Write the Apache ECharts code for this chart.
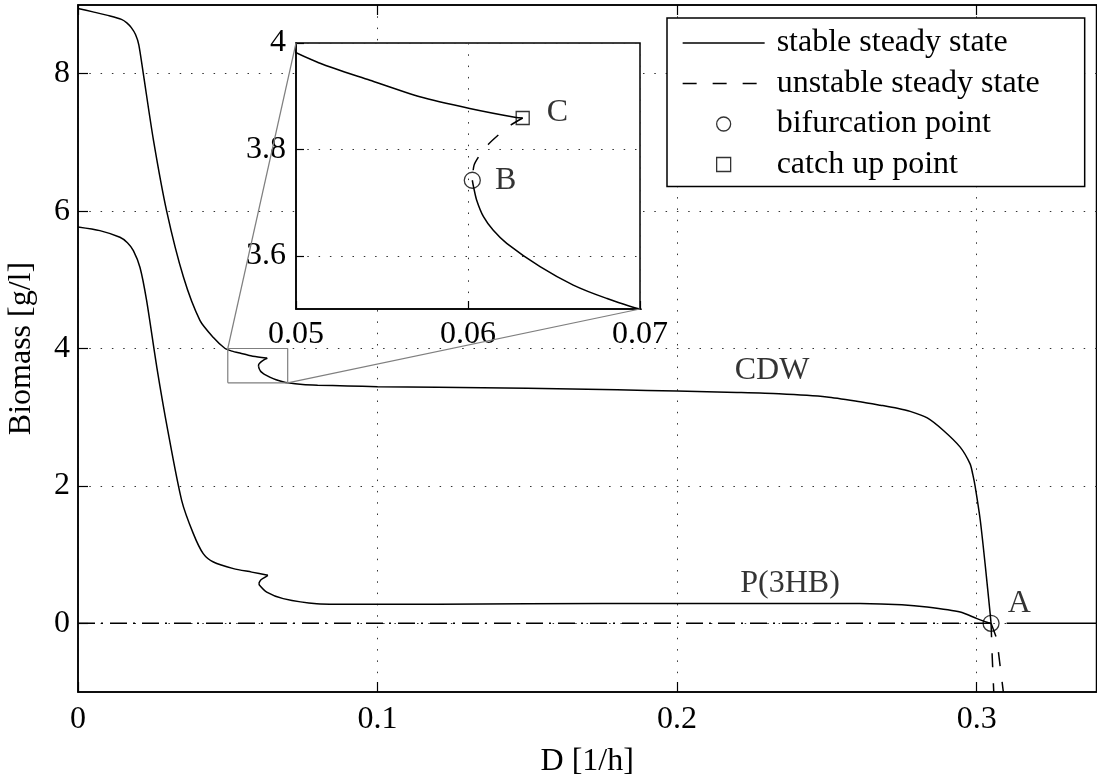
<!DOCTYPE html>
<html><head><meta charset="utf-8">
<script src="https://cdn.jsdelivr.net/npm/echarts@6/dist/echarts.min.js"></script>
<style>html,body{margin:0;padding:0;background:#fff}#c{width:1097px;height:776px}</style>
</head><body><div id="c"></div>
<script>
// ---------- axis ranges & ticks ----------
const xRange = [0, 0.34];
const yRange = [-1, 9];
const xTicks = [0, 0.1, 0.2, 0.3];
const yTicks = [0, 2, 4, 6, 8];
const insetXRange = [0.05, 0.07];
const insetYRange = [3.5, 4];
const insetXTicks = [0.05, 0.06, 0.07];
const insetYTicks = [3.6, 3.8, 4];

// ---------- CDW branches ----------
const cdwUpperX = [0, 0.005, 0.0107, 0.0145, 0.0163, 0.0178, 0.0192, 0.0203, 0.0218, 0.0252, 0.0296, 0.0352, 0.0407, 0.0452, 0.0491, 0.0514, 0.0543, 0.0572, 0.0601, 0.0628, 0.06318];
const cdwUpperY = [8.95, 8.90, 8.84, 8.79, 8.74, 8.67, 8.57, 8.42, 8.0, 7.03, 6.0, 5.04, 4.41, 4.16, 4.0, 3.962, 3.930, 3.899, 3.877, 3.860, 3.859];
const cdwUnstX = [0.06318, 0.0625, 0.0618, 0.0612, 0.0607, 0.06035, 0.06025];
const cdwUnstY = [3.859, 3.846, 3.828, 3.810, 3.790, 3.770, 3.742];
const cdwLowerX = [0.06025, 0.06032, 0.0605, 0.0609, 0.06147, 0.06225, 0.06419, 0.06612, 0.06806, 0.07, 0.075, 0.08, 0.09, 0.1, 0.12, 0.15, 0.18, 0.2, 0.22, 0.234, 0.25, 0.2611, 0.2678, 0.2735, 0.2778, 0.2835, 0.2889, 0.2945, 0.2978, 0.2987, 0.2995, 0.3012, 0.3028, 0.3045, 0.3048];
const cdwLowerY = [3.742, 3.730, 3.705, 3.6735, 3.648, 3.6235, 3.5795, 3.545, 3.520, 3.50, 3.475, 3.465, 3.455, 3.445, 3.435, 3.42, 3.40, 3.38, 3.36, 3.341, 3.295, 3.225, 3.175, 3.13, 3.085, 2.99, 2.807, 2.564, 2.32, 2.167, 1.99, 1.50, 0.87, 0.14, 0.0];
const cdwNegX = [0.3048, 0.3052, 0.3057];
const cdwNegY = [0, -0.5, -1.0];

// ---------- P(3HB) branches ----------
const pUpperX = [0, 0.0073, 0.0140, 0.0165, 0.01848, 0.0207, 0.0229, 0.0263, 0.030, 0.0346, 0.0385, 0.0418, 0.0452, 0.0519, 0.058, 0.0634];
const pUpperY = [5.77, 5.716, 5.619, 5.54, 5.425, 5.18, 4.70, 3.73, 2.80, 1.79, 1.305, 1.014, 0.892, 0.796, 0.745, 0.698];
const pUnstX = [0.0634, 0.0622, 0.0610, 0.0604];
const pUnstY = [0.698, 0.665, 0.630, 0.585];
const pLowerX = [0.0604, 0.0606, 0.063, 0.0685, 0.0797, 0.0964, 0.12, 0.15, 0.2, 0.234, 0.2611, 0.275, 0.2834, 0.2945, 0.3001, 0.3034, 0.3048];
const pLowerY = [0.585, 0.553, 0.455, 0.359, 0.286, 0.276, 0.278, 0.283, 0.29, 0.29, 0.288, 0.27, 0.237, 0.164, 0.068, 0.015, 0.0];
const pNegX = [0.3048, 0.3067, 0.3089];
const pNegY = [0, -0.22, -1.0];

// ---------- washout (zero) branch ----------
const zeroUnstX = [0, 0.3048];
const zeroStableX = [0.31, 0.34];

// ---------- special points & annotations ----------
const pointA = [0.3048, 0];
const pointB = [0.06025, 3.742];
const pointC = [0.06318, 3.859];
const curveLabels = ['CDW', 'P(3HB)'];
const curveLabelX = [0.2317, 0.2377];
const curveLabelY = [3.68, 0.582];

const FONT = 'Liberation Serif';
const FS = 32;
const zip = (xs, ys) => xs.map((x, i) => [x, ys[i]]);
const txt = {fontFamily: FONT, fontSize: FS, color: '#000'};

const chart = echarts.init(document.getElementById('c'), null, {renderer: 'canvas'});

const solid = {color: '#000', width: 1.5, type: 'solid'};
const dashed = {color: '#000', width: 1.5, type: [14, 16]};
const dashDot = {color: '#000', width: 1.5, type: [17, 6, 2, 7]};

function lineSeries(name, data, style, inset, smooth) {
  return {
    name: name, type: 'line', data: data, symbol: 'none',
    smooth: smooth ? 0.25 : false,
    xAxisIndex: inset ? 2 : 0, yAxisIndex: inset ? 1 : 0,
    lineStyle: style, itemStyle: {color: '#000'}, z: inset ? 5 : 2, clip: true, silent: true
  };
}
function markerSeries(name, pt, symbol, size, label, lab, inset) {
  return {
    name: name, type: 'scatter', data: [pt], symbol: symbol, symbolSize: size,
    xAxisIndex: inset ? 2 : 0, yAxisIndex: inset ? 1 : 0, z: inset ? 6 : 3,
    itemStyle: {color: 'rgba(0,0,0,0)', borderColor: '#000', borderWidth: 1.3},
    label: Object.assign({show: true, formatter: label, fontFamily: FONT, fontSize: FS, color: '#000', position: 'right'}, lab),
    silent: true
  };
}

const boxPts = [[insetXRange[0], insetYRange[0]], [insetXRange[1], insetYRange[0]], [insetXRange[1], insetYRange[1]], [insetXRange[0], insetYRange[1]], [insetXRange[0], insetYRange[0]]];

const gridDots = {show: true, lineStyle: {color: '#333', width: 1, type: [1.5, 9.8]}};
const hiddenMark = {color: 'rgba(0,0,0,0)', borderWidth: 0, opacity: 0};

const option = {
  animation: false,
  backgroundColor: '#fff',
  grid: [
    {left: 78, top: 5, width: 1018.5, height: 687, show: true, backgroundColor: 'transparent', borderColor: '#000', borderWidth: 1.5, containLabel: false, outerBoundsMode: 'none', z: 0},
    {left: 296, top: 43, width: 344, height: 266, show: true, backgroundColor: '#fff', borderColor: '#000', borderWidth: 1.5, containLabel: false, outerBoundsMode: 'none', z: 3}
  ],
  xAxis: [
    {gridIndex: 0, type: 'value', min: xRange[0], max: xRange[1], position: 'bottom',
     axisLine: {show: true, onZero: false, lineStyle: {color: '#000', width: 1.5}},
     axisTick: {show: true, inside: true, length: 10, customValues: xTicks, lineStyle: {color: '#000', width: 1.2}},
     axisLabel: Object.assign({show: true, customValues: xTicks, margin: 12, formatter: v => String(v)}, txt),
     splitLine: gridDots,
     name: 'D [1/h]', nameLocation: 'middle', nameGap: 54, nameTextStyle: txt},
    {gridIndex: 0, type: 'value', min: xRange[0], max: xRange[1], position: 'top',
     axisLine: {show: true, onZero: false, lineStyle: {color: '#000', width: 1.5}},
     axisTick: {show: true, inside: true, length: 10, customValues: xTicks, lineStyle: {color: '#000', width: 1.2}},
     axisLabel: {show: false}, splitLine: {show: false}},
    {gridIndex: 1, type: 'value', min: insetXRange[0], max: insetXRange[1], position: 'bottom', z: 4,
     axisLine: {show: true, onZero: false, lineStyle: {color: '#000', width: 1.5}},
     axisTick: {show: true, inside: true, length: 8, customValues: insetXTicks, lineStyle: {color: '#000', width: 1.2}},
     axisLabel: Object.assign({show: true, customValues: insetXTicks, margin: 10, formatter: v => String(+v.toFixed(4))}, txt),
     splitLine: gridDots}
  ],
  yAxis: [
    {gridIndex: 0, type: 'value', min: yRange[0], max: yRange[1], position: 'left',
     axisLine: {show: true, onZero: false, lineStyle: {color: '#000', width: 1.5}},
     axisTick: {show: true, inside: true, length: 10, customValues: yTicks, lineStyle: {color: '#000', width: 1.2}},
     axisLabel: Object.assign({show: true, customValues: yTicks, margin: 8, formatter: v => String(v)}, txt),
     splitLine: gridDots,
     name: 'Biomass [g/l]', nameLocation: 'middle', nameGap: 40, nameRotate: 90, nameTextStyle: txt},
    {gridIndex: 1, type: 'value', min: insetYRange[0], max: insetYRange[1], position: 'left', z: 4,
     axisLine: {show: true, onZero: false, lineStyle: {color: '#000', width: 1.5}},
     axisTick: {show: true, inside: true, length: 8, customValues: insetYTicks, lineStyle: {color: '#000', width: 1.2}},
     axisLabel: Object.assign({show: true, customValues: insetYTicks, margin: 10, formatter: v => String(+v.toFixed(4))}, txt),
     splitLine: gridDots}
  ],
  legend: {
    orient: 'vertical', left: 667, top: 18, padding: [9, 45, 6, 15],
    itemWidth: 82, itemHeight: 14, itemGap: 8.5,
    backgroundColor: '#fff', borderColor: '#000', borderWidth: 1.5, borderRadius: 0,
    textStyle: {fontFamily: FONT, fontSize: FS, color: '#000', lineHeight: 30, padding: [0, 0, 0, 7]},
    selectedMode: false, z: 8,
    data: [
      {name: 'stable steady state', lineStyle: {width: 1.3, color: '#000'}, itemStyle: hiddenMark},
      {name: 'unstable steady state', lineStyle: {width: 1.3, color: '#000'}, itemStyle: hiddenMark},
      {name: 'bifurcation point', icon: 'circle', itemStyle: {borderWidth: 1.3, color: 'rgba(0,0,0,0)', borderColor: '#000'}},
      {name: 'catch up point', icon: 'path://M0,0L10,0L10,10L0,10Z', itemStyle: {borderWidth: 1.3, color: 'rgba(0,0,0,0)', borderColor: '#000'}}
    ]
  },
  series: [
    lineSeries('stable steady state', zip(cdwUpperX, cdwUpperY), solid, false, true),
    lineSeries('unstable steady state', zip(cdwUnstX, cdwUnstY), dashed, false, true),
    lineSeries('stable steady state', zip(cdwLowerX, cdwLowerY), solid, false, true),
    lineSeries('stable steady state', zip(pUpperX, pUpperY), solid, false, true),
    lineSeries('unstable steady state', zip(pUnstX, pUnstY), dashed, false, true),
    lineSeries('stable steady state', zip(pLowerX, pLowerY), solid, false, true),
    lineSeries('unstable steady state', zip(cdwNegX, cdwNegY), dashed, false, false),
    lineSeries('unstable steady state', zip(pNegX, pNegY), dashed, false, false),
    lineSeries('washout unstable', zeroUnstX.map(x => [x, 0]), dashDot, false, false),
    lineSeries('washout stable', zeroStableX.map(x => [x, 0]), solid, false, false),
    lineSeries('zoom box', boxPts, {color: '#7f7f7f', width: 1.2, type: 'solid'}, false, false),
    markerSeries('bifurcation point', pointA, 'circle', 16, 'A', {distance: 8, offset: [0, -20]}, false),
    lineSeries('stable steady state', zip(cdwUpperX, cdwUpperY), solid, true, true),
    lineSeries('unstable steady state', zip(cdwUnstX, cdwUnstY), dashed, true, true),
    lineSeries('stable steady state', zip(cdwLowerX, cdwLowerY), solid, true, true),
    markerSeries('bifurcation point', pointB, 'circle', 16, 'B', {distance: 14, offset: [0, 0]}, true),
    markerSeries('catch up point', pointC, 'rect', 13, 'C', {distance: 17, offset: [0, -5]}, true),
    {
      name: 'curve labels', type: 'scatter', symbolSize: 0, xAxisIndex: 0, yAxisIndex: 0, z: 3, silent: true,
      data: curveLabels.map((n, i) => ({name: n, value: [curveLabelX[i], curveLabelY[i]]})),
      label: {show: true, position: 'inside', formatter: '{b}', fontFamily: FONT, fontSize: FS, color: '#000'}
    }
  ]
};
chart.setOption(option);

// connector lines from the zoom box in the main axes to the inset frame
const m1 = chart.convertToPixel({gridIndex: 0}, [insetXRange[0], insetYRange[1]]);
const i1 = chart.convertToPixel({gridIndex: 1}, [insetXRange[0], insetYRange[1]]);
const m2 = chart.convertToPixel({gridIndex: 0}, [insetXRange[1], insetYRange[0]]);
const i2 = chart.convertToPixel({gridIndex: 1}, [insetXRange[1], insetYRange[0]]);
chart.setOption({
  graphic: [
    {type: 'line', z: 10, silent: true, shape: {x1: m1[0], y1: m1[1], x2: i1[0], y2: i1[1]}, style: {stroke: '#7f7f7f', lineWidth: 1.2}},
    {type: 'line', z: 10, silent: true, shape: {x1: m2[0], y1: m2[1], x2: i2[0], y2: i2[1]}, style: {stroke: '#7f7f7f', lineWidth: 1.2}}
  ]
});
</script></body></html>
